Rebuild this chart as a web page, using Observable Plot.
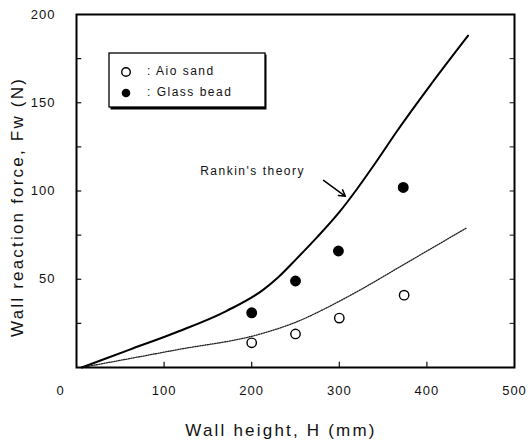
<!DOCTYPE html>
<html>
<head>
<meta charset="utf-8">
<script src="https://cdn.jsdelivr.net/npm/d3@7"></script>
<script src="https://cdn.jsdelivr.net/npm/@observablehq/plot@0.6"></script>
<style>
  html, body { margin: 0; padding: 0; background: #fff; }
  svg text { font-family: "Liberation Sans", "DejaVu Sans", sans-serif; }
</style>
</head>
<body>
<div id="chart"></div>
<script>
// ---- data ----
const aioH = [200, 250, 300, 374];
const aioF = [14, 19, 28, 41];
const glassH = [200, 250, 299, 373];
const glassF = [31, 49, 66, 102];
const rankinH = [6, 60, 114, 171, 213, 230, 250, 275, 300, 320, 340, 366, 404, 447];
const rankinF = [0, 10, 20, 32, 44, 51, 61, 74, 88, 101, 115, 134, 160, 188];
const dottedH = [6, 114, 210, 247, 298, 324, 369, 445];
const dottedF = [0, 10, 19, 25, 37, 44, 57, 79];
const xTickLabels = [100, 200, 300, 400, 500];
const yTickLabels = [50, 100, 150, 200];
const xTickMarks = [100, 200, 300, 400];
const yTickMarks = [25, 50, 75, 100, 125, 150, 175];
const legendLabels = [": Aio sand", ": Glass bead"];
const theoryLabel = "Rankin's theory";

const aio = aioH.map((h, i) => ({h, f: aioF[i]}));
const glass = glassH.map((h, i) => ({h, f: glassF[i]}));
const rankin = rankinH.map((h, i) => ({h, f: rankinF[i]}));
const dotted = dottedH.map((h, i) => ({h, f: dottedF[i]}));

const font = "'Liberation Sans', 'DejaVu Sans', sans-serif";

const chart = Plot.plot({
  width: 528,
  height: 443,
  marginLeft: 76,
  marginRight: 14,
  marginTop: 14,
  marginBottom: 76,
  style: {fontFamily: font, fontSize: "13px", color: "#111", background: "#fff"},
  x: {domain: [0, 500], axis: null},
  y: {domain: [0, 200], axis: null},
  marks: [
    Plot.axisX({ticks: xTickLabels, tickSize: 0, tickPadding: 18, fontSize: 13, label: null}),
    Plot.axisX({ticks: [0], tickSize: 0, tickPadding: 18, fontSize: 13, dx: -16, label: null}),
    Plot.axisY({ticks: yTickLabels, tickSize: 0, tickPadding: 21, fontSize: 13, label: null}),
    Plot.ruleX(xTickMarks, {x: d => d, y1: 0, y2: 3, stroke: "#111", strokeWidth: 1.2}),
    Plot.ruleY(yTickMarks, {y: d => d, x1: 0, x2: 6, stroke: "#111", strokeWidth: 1.2}),
    Plot.ruleY(yTickMarks, {y: d => d, x1: 500, x2: 495, stroke: "#111", strokeWidth: 1}),
    Plot.line(rankin, {x: "h", y: "f", curve: "monotone-x", stroke: "#000", strokeWidth: 2}),
    Plot.line(dotted, {x: "h", y: "f", curve: "monotone-x", stroke: "#222", strokeWidth: 1.3, strokeDasharray: "1.2,1.3"}),
    Plot.dot(glass, {x: "h", y: "f", r: 4.7, fill: "#000", stroke: "#000"}),
    Plot.dot(aio, {x: "h", y: "f", r: 4.7, fill: "#fff", stroke: "#000", strokeWidth: 1.4}),
    Plot.text([theoryLabel], {x: 201, y: 111, text: d => d, fontSize: 12, fill: "#111"}),
    Plot.arrow([0], {x1: 282, y1: 106, x2: 307, y2: 97, stroke: "#000", strokeWidth: 1.5, headLength: 7, bend: false}),
    Plot.frame({stroke: "#000", strokeWidth: 2})
  ]
});

const svg = d3.select(chart);
// letter spacing for tick labels
svg.selectAll("text").style("letter-spacing", "1px");
svg.selectAll("text").filter(function() { return this.textContent === theoryLabel; })
  .style("letter-spacing", "1.5px");

// axis titles
svg.append("text")
  .attr("x", 281).attr("y", 432)
  .attr("text-anchor", "middle").attr("dominant-baseline", "middle")
  .attr("font-size", 17).attr("fill", "#111").style("letter-spacing", "2.2px")
  .attr("font-family", font)
  .text("Wall height, H (mm)");

svg.append("text")
  .attr("transform", "translate(19,207) rotate(-90)")
  .attr("text-anchor", "middle").attr("dominant-baseline", "middle")
  .attr("font-size", 17).attr("fill", "#111").style("letter-spacing", "2.2px")
  .attr("font-family", font)
  .text("Wall reaction force, Fw (N)");

// legend box
const lg = svg.append("g");
lg.append("rect").attr("x", 110.5).attr("y", 54.5).attr("width", 156).attr("height", 55).attr("fill", "#000");
lg.append("rect").attr("x", 109).attr("y", 53).attr("width", 156).attr("height", 54)
  .attr("fill", "#fff").attr("stroke", "#000").attr("stroke-width", 1.3);
lg.append("circle").attr("cx", 126).attr("cy", 72).attr("r", 4.3).attr("fill", "#fff").attr("stroke", "#000").attr("stroke-width", 1.4);
lg.append("circle").attr("cx", 126).attr("cy", 93).attr("r", 4.3).attr("fill", "#000");
legendLabels.forEach((t, i) => {
  lg.append("text").attr("x", 147).attr("y", 72 + i * 21)
    .attr("text-anchor", "start")
    .attr("dominant-baseline", "middle").attr("font-size", 12).attr("fill", "#111")
    .attr("font-family", font).style("letter-spacing", "1.5px").text(t);
});

document.getElementById("chart").appendChild(chart);
</script>
</body>
</html>
